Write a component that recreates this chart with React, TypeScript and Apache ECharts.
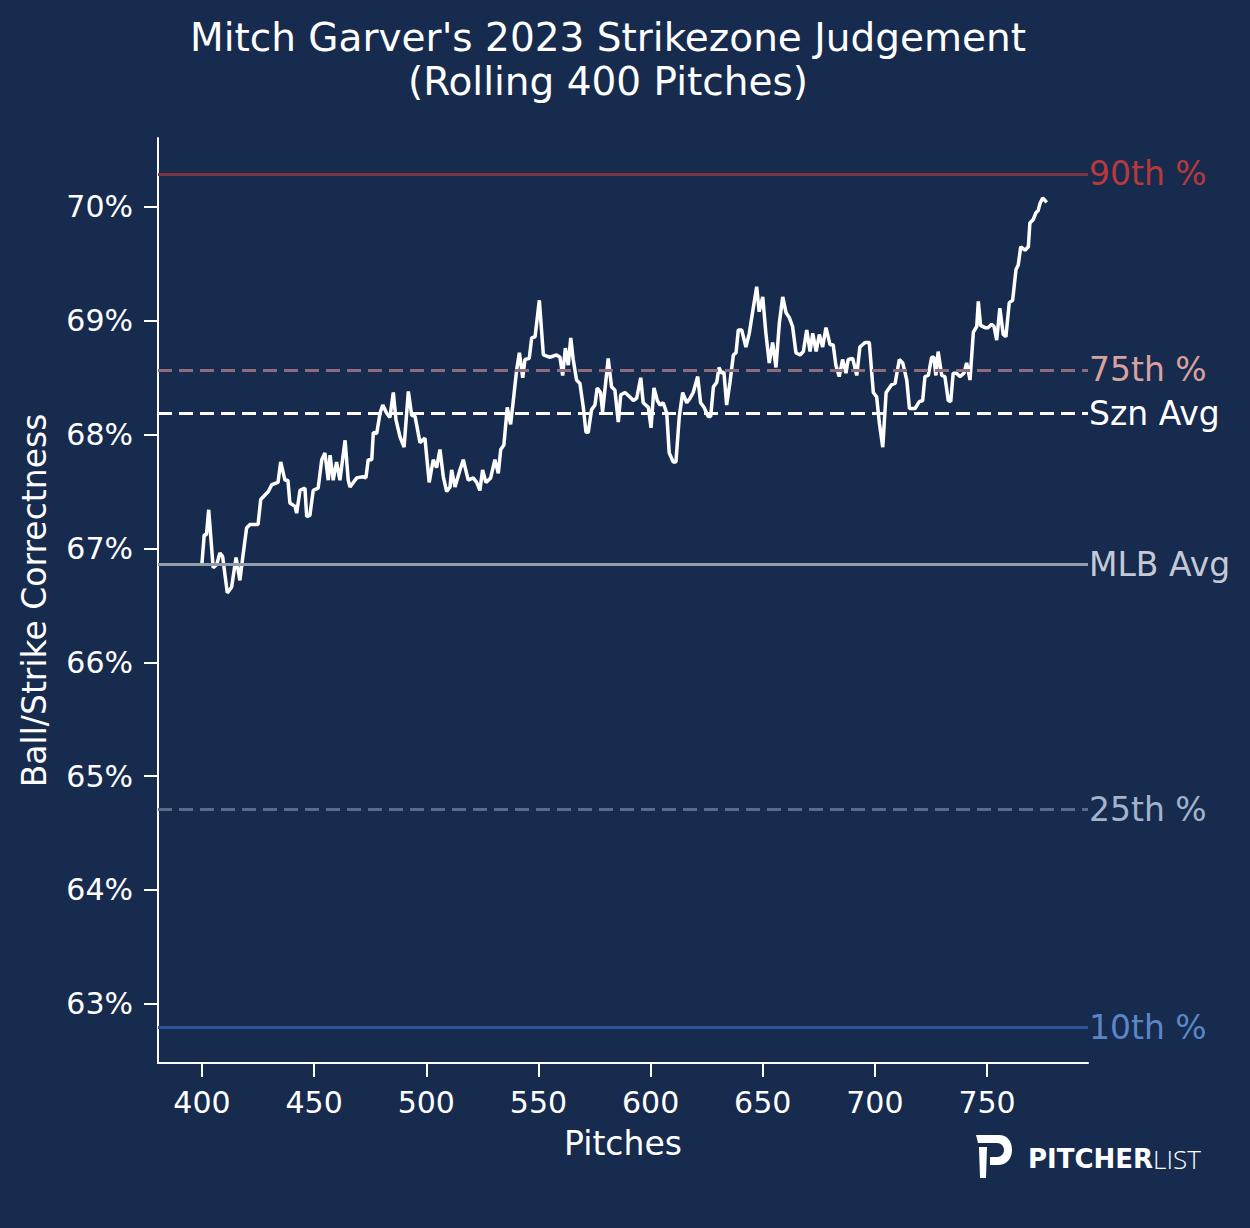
import React, { useEffect, useRef } from "react";
import * as echarts from "echarts";

const pitches = [400,401,402,403,405,406.6,408,409.2,411.3,413.2,415.2,416.9,418.3,419.9,421.4,425,426.2,428.1,429.6,431.1,433.9,435.1,437,438.3,439.2,441.5,442.2,443.7,445.9,446.7,448.1,449.6,451.8,453.4,454.8,456.3,457.1,458.5,460,461.5,463.8,465.2,466,469,471.8,473.1,474.1,475.7,476.4,477.9,479.4,480.6,482.3,
483.8,485.3,486.5,488.3,490.1,492,493.5,495,497.2,499.4,501.3,503.1,504.6,506.1,507.6,509.1,510.6,511.3,512.8,515,516.5,518.7,520.9,522.5,523.9,525.1,526.6,528.7,530.6,532.1,533.2,534.6,536.1,537.6,538.8,540.3,541.5,543,544,545.9,547,548.5,550.4,552.2,555.1,558.1,559.6,560.8,562,563.3,564.4,565.5,567,568.5,
570,571.2,572.2,573.7,575.2,576.2,577.7,578.6,580.1,581.1,582.6,584.1,585.6,586.7,588.6,590.8,592.3,593.8,595.6,596.7,599,600.2,601.5,603,604.2,605.6,607.2,608.3,610.1,611.3,612.8,614.3,616.1,617.6,619,621,622.3,623.8,625.7,626.8,628,629.5,630.5,631.7,632.7,633.9,635.4,636.9,638.1,639.1,640.6,642.5,644,645.5,647.3,648.4,650,651.4,652.9,654.4,655.9,657.4,658.9,660.4,661.8,663.3,664.8,666.6,668.1,669.6,671.1,672.3,673.8,675.2,676.7,678.2,680,681.4,682.6,684.1,685.6,687.1,688.1,690.1,691.9,693.3,695.6,697.5,699.3,700.8,702,703.5,705,707.5,709,710.9,712.4,714.2,715.4,717.9,719.8,721.3,722.3,723.8,725.3,726.3,727.2,728.2,729.8,731.2,732.7,733.8,734.9,736.4,737.9,739.7,740.9,742.4,743.9,745.4,746.1,747.1,749.1,750.5,752,753.1,754.3,755.7,757.2,758.4,759.9,761.4,762.9,763.9,765,766.9,768.4,769.1,770.6,771.8,772.8,773.6,774.8,776.6];

const correctness = [66.87,67.12,67.12,67.34,66.83,66.86,66.96,66.93,66.61,66.66,66.92,66.72,66.94,67.18,67.21,67.21,67.43,67.47,67.50,67.56,67.58,67.76,67.60,67.60,67.40,67.37,67.31,67.51,67.53,67.28,67.29,67.51,67.53,67.78,67.84,67.60,67.82,67.60,67.76,67.60,67.95,67.60,67.54,67.62,67.63,67.62,67.78,67.78,68.02,68.01,68.19,68.26,68.19,
68.15,68.37,68.13,67.98,67.89,68.38,68.17,68.16,67.93,67.97,67.58,67.78,67.71,67.87,67.63,67.50,67.54,67.69,67.54,67.69,67.78,67.60,67.62,67.58,67.51,67.69,67.58,67.62,67.78,67.66,67.87,67.91,68.24,68.09,68.30,68.57,68.72,68.50,68.66,68.67,68.85,68.86,69.18,68.70,68.68,68.70,68.68,68.52,68.76,68.61,68.85,68.66,68.48,68.45,
68.24,68.02,68.02,68.22,68.26,68.41,68.37,68.20,68.48,68.67,68.42,68.39,68.11,68.35,68.37,68.33,68.30,68.32,68.50,68.28,68.24,68.06,68.41,68.30,68.26,68.28,68.19,67.84,67.76,67.76,68.16,68.37,68.28,68.32,68.37,68.51,68.28,68.24,68.16,68.16,68.42,68.46,68.59,68.54,68.55,68.26,68.46,68.70,68.72,68.92,68.92,68.77,68.89,69.08,69.30,69.08,69.21,68.89,68.63,68.81,68.59,68.98,69.21,69.07,69.03,68.95,68.72,68.70,68.73,68.92,68.73,68.89,68.73,68.88,68.77,68.94,68.79,68.79,68.61,68.51,68.66,68.54,68.66,68.67,68.52,68.77,68.81,68.81,68.37,68.33,68.10,67.89,68.37,68.44,68.45,68.66,68.63,68.48,68.23,68.23,68.29,68.30,68.51,68.52,68.68,68.68,68.52,68.73,68.52,68.51,68.30,68.29,68.54,68.54,68.51,68.54,68.63,68.48,68.90,68.95,69.17,68.96,68.94,68.94,68.97,68.95,68.83,69.11,68.88,68.86,69.16,69.18,69.45,69.49,69.65,69.62,69.65,69.86,69.89,69.95,69.97,70.03,70.08,70.04];

const xTicks = [400, 450, 500, 550, 600, 650, 700, 750];
const yTicks = [63, 64, 65, 66, 67, 68, 69, 70];

const refNames = ["90th %", "75th %", "Szn Avg", "MLB Avg", "25th %", "10th %"];
const refValues = [70.29, 68.57, 68.19, 66.86, 64.71, 62.79];
const refLineColors = ["#7c3442", "#8d6c7c", "#ffffff", "#949cab", "#5a6c8c", "#2c5597"];
const refLabelColors = ["#b8393c", "#d9a29e", "#ffffff", "#c3c9d5", "#a3b3cb", "#5b86c5"];
const refDashed = [false, true, true, false, true, false];

const titleLines = ["Mitch Garver's 2023 Strikezone Judgement", "(Rolling 400 Pitches)"];

const FONT = '"DejaVu Sans", sans-serif';
const BG = "#172b4f";

const logoD =
  "M0 0 L23 0 C31 0 36 6 36 15 C36 24 30 30 22 30 L14 30 L14 22 L21 22 C25 22 28 19 28 15 C28 11 25 8 21 8 L2 8 Z M3 12 L11 12 L10 43 L4 43 Z";
echarts.graphic.registerShape("pllogo", echarts.graphic.extendPath(logoD, {}) as any);

export default function App() {
  const ref = useRef<HTMLDivElement>(null);
  useEffect(() => {
    document.body.style.margin = "0";
    document.body.style.background = BG;
    const chart = echarts.init(ref.current!, null, { renderer: "svg" });
    const data = pitches.map((p, i) => [p, correctness[i]]);
    chart.setOption({
      animation: false,
      backgroundColor: BG,
      grid: { left: 158, right: 162, top: 138, bottom: 165, containLabel: false },
      xAxis: {
        type: "value",
        min: 380.4,
        max: 795,
        name: "Pitches",
        nameLocation: "middle",
        nameGap: 64,
        nameTextStyle: { color: "#ffffff", fontSize: 33, fontFamily: FONT },
        axisLine: { show: true, onZero: false, lineStyle: { color: "#ffffff", width: 2 } },
        axisTick: { show: true, length: 14, lineStyle: { color: "#ffffff", width: 2 }, customValues: xTicks },
        axisLabel: { color: "#ffffff", fontSize: 30, fontFamily: FONT, margin: 24, customValues: xTicks },
        splitLine: { show: false },
      },
      yAxis: {
        type: "value",
        min: 62.48,
        max: 70.606,
        name: "Ball/Strike Correctness",
        nameLocation: "middle",
        nameGap: 107,
        nameTextStyle: { color: "#ffffff", fontSize: 33, fontFamily: FONT },
        axisLine: { show: true, onZero: false, lineStyle: { color: "#ffffff", width: 2 } },
        axisTick: { show: true, length: 14, lineStyle: { color: "#ffffff", width: 2 }, customValues: yTicks },
        axisLabel: {
          color: "#ffffff",
          fontSize: 30,
          fontFamily: FONT,
          margin: 25,
          customValues: yTicks,
          formatter: (v: number) => `${Math.round(v)}%`,
        },
        splitLine: { show: false },
      },
      series: [
        {
          type: "line",
          data,
          showSymbol: false,
          symbol: "none",
          lineStyle: { color: "#ffffff", width: 3.5 },
          z: 3,
          markLine: {
            silent: true,
            symbol: ["none", "none"],
            animation: false,
            data: refValues.map((v, i) => ({
              yAxis: v,
              name: refNames[i],
              lineStyle: {
                color: refLineColors[i],
                width: 3,
                type: refDashed[i] ? [14, 7] : "solid",
              },
              label: {
                show: true,
                position: "end",
                formatter: refNames[i],
                color: refLabelColors[i],
                fontSize: 33,
                fontFamily: FONT,
                distance: 1,
              },
            })),
          },
        },
      ],
      graphic: [
        {
          type: "text",
          x: 608,
          y: 37,
          style: {
            text: titleLines[0],
            fill: "#ffffff",
            fontSize: 39,
            fontFamily: FONT,
            align: "center",
            verticalAlign: "middle",
          },
        },
        {
          type: "text",
          x: 608,
          y: 81,
          style: {
            text: titleLines[1],
            fill: "#ffffff",
            fontSize: 39,
            fontFamily: FONT,
            align: "center",
            verticalAlign: "middle",
          },
        },
        {
          type: "pllogo",
          x: 976,
          y: 1135,
          scaleX: 1,
          scaleY: 1,
          style: { fill: "#ffffff" },
        },
        {
          type: "text",
          x: 1028,
          y: 1159,
          style: {
            text: "{a|PITCHER}{b|LIST}",
            verticalAlign: "middle",
            align: "left",
            rich: {
              a: { fill: "#ffffff", fontSize: 26, fontWeight: "bold", fontFamily: FONT },
              b: { fill: "#ffffff", fontSize: 26, fontWeight: 300, fontFamily: '"Open Sans", sans-serif' },
            },
          },
        },
      ],
    });
    return () => chart.dispose();
  }, []);
  return (
    <div
      ref={ref}
      style={{ position: "absolute", left: 0, top: 0, width: 1250, height: 1228 }}
    />
  );
}
